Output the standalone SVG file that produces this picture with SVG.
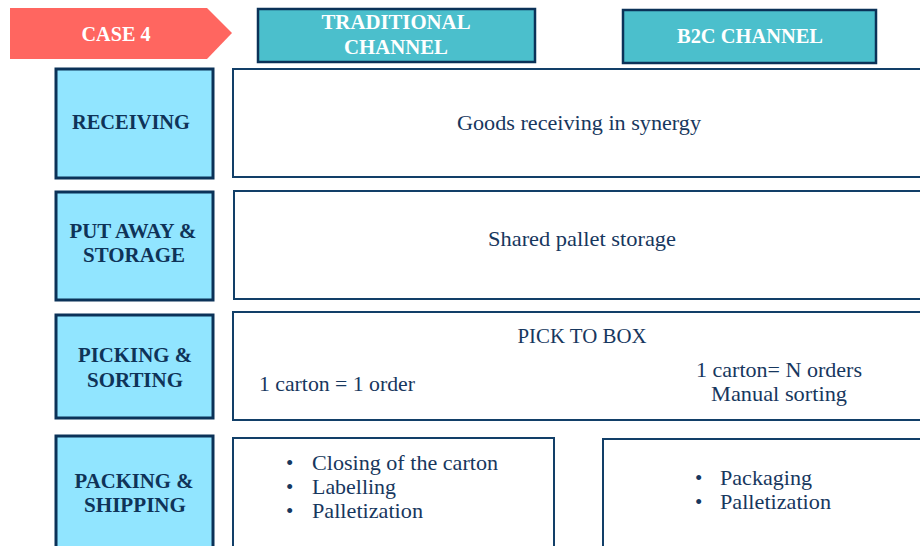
<svg xmlns="http://www.w3.org/2000/svg" width="920" height="546" viewBox="0 0 920 546">
  <style>
    .step { fill: #91E5FF; stroke: #0B3258; stroke-width: 3; }
    .cell { fill: #FFFFFF; stroke: #123F68; stroke-width: 2; }
    .head { fill: #4BBFCC; stroke: #0B3258; stroke-width: 2.5; }
    .lbl  { font-family: "Liberation Serif", "Times New Roman", serif; font-weight: bold; font-size: 20px; fill: #0F3358; text-anchor: middle; }
    .hdr  { font-family: "Liberation Serif", "Times New Roman", serif; font-weight: bold; font-size: 20px; fill: #FFFFFF; text-anchor: middle; }
    .txt  { font-family: "Liberation Serif", "Times New Roman", serif; font-size: 21px; fill: #17375E; }
    .mid  { text-anchor: middle; }
  </style>
  <rect width="920" height="546" fill="#FFFFFF"/>

  <!-- case banner -->
  <g id="case">
    <polygon points="10,8 207,8 232,33 207,59 10,59" fill="#FF6660"/>
    <text class="hdr" x="116" y="41" textLength="69" lengthAdjust="spacingAndGlyphs">CASE 4</text>
  </g>

  <!-- column headers -->
  <g id="hdr-traditional">
    <rect class="head" x="258" y="9" width="277" height="53"/>
    <text class="hdr" x="396" y="29" textLength="149" lengthAdjust="spacingAndGlyphs">TRADITIONAL</text>
    <text class="hdr" x="396" y="54" textLength="104" lengthAdjust="spacingAndGlyphs">CHANNEL</text>
  </g>
  <g id="hdr-b2c">
    <rect class="head" x="623" y="10" width="253" height="53"/>
    <text class="hdr" x="750" y="43" textLength="146" lengthAdjust="spacingAndGlyphs">B2C CHANNEL</text>
  </g>

  <!-- process steps -->
  <g id="step-receiving">
    <rect class="step" x="56" y="69" width="157" height="109"/>
    <text class="lbl" x="131" y="129" textLength="118" lengthAdjust="spacingAndGlyphs">RECEIVING</text>
  </g>
  <g id="step-putaway">
    <rect class="step" x="56" y="192" width="157" height="108"/>
    <text class="lbl" x="133" y="238" textLength="127" lengthAdjust="spacingAndGlyphs">PUT AWAY &amp;</text>
    <text class="lbl" x="134" y="262" textLength="102" lengthAdjust="spacingAndGlyphs">STORAGE</text>
  </g>
  <g id="step-picking">
    <rect class="step" x="56" y="315" width="157" height="103"/>
    <text class="lbl" x="135" y="362" textLength="114" lengthAdjust="spacingAndGlyphs">PICKING &amp;</text>
    <text class="lbl" x="135" y="387" textLength="96" lengthAdjust="spacingAndGlyphs">SORTING</text>
  </g>
  <g id="step-packing">
    <rect class="step" x="56" y="436" width="157" height="120"/>
    <text class="lbl" x="134" y="488" textLength="119" lengthAdjust="spacingAndGlyphs">PACKING &amp;</text>
    <text class="lbl" x="135" y="512" textLength="102" lengthAdjust="spacingAndGlyphs">SHIPPING</text>
  </g>

  <!-- activity cells -->
  <g id="cell-receiving">
    <rect class="cell" x="233" y="69" width="700" height="108"/>
    <text class="txt mid" x="579" y="130" textLength="244" lengthAdjust="spacingAndGlyphs">Goods receiving in synergy</text>
  </g>
  <g id="cell-storage">
    <rect class="cell" x="234" y="191" width="700" height="108"/>
    <text class="txt mid" x="582" y="246" textLength="188" lengthAdjust="spacingAndGlyphs">Shared pallet storage</text>
  </g>
  <g id="cell-picking">
    <rect class="cell" x="233" y="312" width="700" height="108"/>
    <text class="txt mid" x="582" y="343" textLength="129" lengthAdjust="spacingAndGlyphs">PICK TO BOX</text>
    <text class="txt" x="259" y="391" textLength="156" lengthAdjust="spacingAndGlyphs">1 carton = 1 order</text>
    <text class="txt mid" x="779" y="377" textLength="166" lengthAdjust="spacingAndGlyphs">1 carton= N orders</text>
    <text class="txt mid" x="779" y="401" textLength="136" lengthAdjust="spacingAndGlyphs">Manual sorting</text>
  </g>
  <g id="cell-packing-traditional">
    <rect class="cell" x="233" y="438" width="321" height="120"/>
    <text class="txt" x="286" y="470">•</text>
    <text class="txt" x="312" y="470" textLength="186" lengthAdjust="spacingAndGlyphs">Closing of the carton</text>
    <text class="txt" x="286" y="494">•</text>
    <text class="txt" x="312" y="494" textLength="84" lengthAdjust="spacingAndGlyphs">Labelling</text>
    <text class="txt" x="286" y="518">•</text>
    <text class="txt" x="312" y="518" textLength="111" lengthAdjust="spacingAndGlyphs">Palletization</text>
  </g>
  <g id="cell-packing-b2c">
    <rect class="cell" x="603" y="439" width="330" height="120"/>
    <text class="txt" x="695" y="485">•</text>
    <text class="txt" x="720" y="485" textLength="92" lengthAdjust="spacingAndGlyphs">Packaging</text>
    <text class="txt" x="695" y="509">•</text>
    <text class="txt" x="720" y="509" textLength="111" lengthAdjust="spacingAndGlyphs">Palletization</text>
  </g>

  <!-- no connectors in this layout -->
  <g id="connectors"/>
</svg>
